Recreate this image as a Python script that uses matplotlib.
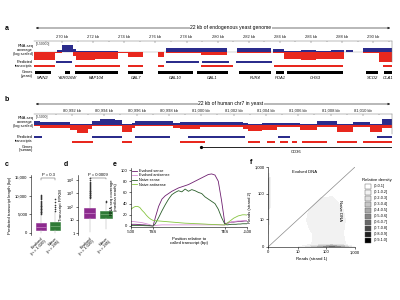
import numpy as np
import matplotlib
matplotlib.use("Agg")
import matplotlib.pyplot as plt
from matplotlib.patches import Rectangle, FancyArrowPatch
from matplotlib.colors import ListedColormap
from matplotlib.ticker import FuncFormatter

plt.rcParams['font.family'] = ['Liberation Sans', 'DejaVu Sans']

BLUE = '#2b2c8c'
RED = '#e8281e'
PURPLE = '#8d2a8e'
GREEN = '#2f7a36'

# ---------------- panel a data (kb on yeast chr II) ----------------
a_ticks_kb = [270, 272, 274, 276, 278, 280, 282, 284, 286, 288, 290]
a_cov_edges = [268.2, 269.55, 269.68, 270.0, 270.71, 270.9, 272.13, 273.61, 274.26, 275.23,
               276.19, 276.52, 276.71, 278.9, 280.58, 281.23, 283.42, 283.55, 284.26, 285.35,
               286.32, 287.29, 288.13, 288.26, 288.71, 289.35, 290.39, 291.2]
a_cov_plus = [0, 0, 2.5, 7, 3, 0.7, 0.7, 0, 0, 0, 0, 0, 3.8, 3.8, 0, 4.5, 0, 3.5, 1.3, 2, 1.3, 2, 0, 1.8, 0, 4.5, 4.5]
a_cov_minus = [8, 1, 1, 0, 3.5, 7.5, 6.5, 0.7, 4.5, 0, 4.5, 0, 0.7, 2.5, 0, 0.7, 0, 0.7, 7, 7.5, 7, 6.5, 0, 0, 0, 0.7, 9.5]
a_tx_plus = [(269.6, 270.65), (276.7, 278.8), (279.0, 280.7), (281.2, 283.5)]
a_tx_minus = [(268.2, 269.55), (270.84, 273.74), (274.26, 275.23), (276.19, 276.52),
              (278.9, 281.0), (283.6, 288.06), (290.65, 291.2)]
a_genes = ['MNN2', 'YBR016W', 'KAP104', 'GAL7', 'GAL10', 'GAL1', 'FUR4', 'POA1', 'CHS3', 'SCO2', 'OLA1']
a_gene_start = [268.25, 270.19, 270.84, 274.26, 276.19, 278.65, 281.35, 283.74, 284.45, 289.55, 290.71]
a_gene_end = [269.29, 270.52, 273.61, 275.23, 278.39, 280.65, 283.42, 284.26, 288.06, 290.32, 291.2]

# ---------------- panel b data (kb on human chr7) ----------------
b_ticks_kb = [80992, 80994, 80996, 80998, 81000, 81002, 81004, 81006, 81008, 81010]
b_cov_edges = [80989.65, 80990.02, 80991.88, 80992.31, 80992.99, 80993.24, 80993.73, 80994.66,
               80995.10, 80995.72, 80995.90, 80998.25, 80998.69, 80999.93, 81002.59, 81002.90,
               81003.76, 81004.69, 81006.12, 81007.17, 81008.41, 81009.40, 81010.45, 81011.20, 81011.8]
b_cov_plus = [4.5, 3, 1.2, 0.7, 1.2, 4.5, 6.5, 5.5, 1.2, 2.5, 4, 2.5, 3, 3, 2, 1.2, 2, 2.5, 1.2, 4, 1.2, 3, 1.2, 6.5]
b_cov_minus = [1.2, 3, 4.5, 7.5, 3.5, 1.2, 0.7, 1.2, 7, 2.5, 1.2, 2.5, 3.5, 2, 3.5, 6, 5, 2, 4.5, 2, 7, 2, 7, 2.5]
b_tx_plus = [(80989.65, 80990.14), (80993.24, 80995.10), (80995.90, 80998.07),
             (80999.18, 81002.71), (81004.76, 81005.50), (81010.89, 81011.8)]
b_tx_minus = [(80992.0, 80993.30), (80995.10, 80995.72), (80998.69, 81000.24), (81002.90, 81003.64),
              (81004.07, 81004.57), (81004.88, 81005.37), (81005.62, 81005.93), (81006.24, 81007.79),
              (81008.41, 81009.65), (81010.02, 81011.8)]
b_gene = ('CD36', 80999.97, 81011.8)

# ---------------- panel c / d data ----------------
groups = ['Evolved\n(n = 1,020)', 'Naive\n(n = 285)']
c_q1 = [800, 800]
c_med = [1600, 1800]
c_q3 = [2700, 2900]
c_wlo = [60, 60]
c_whi = [5000, 5500]
c_fliers_evolved = [5100, 5300, 5500, 5700, 5900, 6100, 6300, 6500, 6700, 6900, 7100, 7300,
                    7500, 7800, 8100, 8400, 8700, 9000, 9300, 9600, 10000, 10300]
c_fliers_naive = [5800, 6300, 7000, 7600, 8300, 9100]
c_p = 'P = 0.3'

d_q1 = [13.5, 13.5]
d_med = [32, 25]
d_q3 = [77, 46]
d_wlo = [1.2, 2]
d_whi = [430, 200]
d_fliers_evolved = [450, 500, 560, 620, 700, 780, 870, 970, 1100, 1250, 1400, 1600, 1800,
                    2100, 2400, 2800, 3300, 3900, 4700, 5800, 7500, 10000, 14000]
d_fliers_naive = [230, 260]
d_p = 'P = 0.0009'

# ---------------- panel e data ----------------
e_x = [0, 2, 4, 6, 8, 10, 12, 14, 16, 18, 20,
       22, 25, 28, 31, 34, 37, 40, 43, 46, 49, 52, 55, 58, 61, 64, 67, 70, 73, 76, 79, 82, 85,
       87, 89, 91, 93, 95, 97, 99, 101, 103, 105]
e_evolved_sense = [3, 3, 3, 2.8, 2.5, 2.2, 2, 1.6, 1.2, 0.6, 0,
                   15, 35, 48, 54, 58, 62, 65, 68, 70, 72, 74, 77, 80, 83, 86, 89, 92, 93, 91, 80, 45, 4,
                   5, 6, 7, 7, 7.5, 8, 8, 8.5, 9, 9]
e_evolved_antisense = [8, 8, 7.5, 7, 6.5, 6, 5, 4, 3, 1.5, 0.5,
                       1, 1.5, 2, 2, 2, 2, 2, 2, 2, 2, 2, 2, 2, 2, 2, 2, 2, 2, 2, 2, 2, 1.5,
                       4, 6, 7, 8, 8.5, 9, 9, 9.5, 10, 10]
e_naive_sense = [1, 1, 1, 1, 0.8, 0.8, 0.6, 0.5, 0.4, 0.2, 0,
                 4, 15, 27, 38, 48, 56, 60, 63, 61, 66, 62, 65, 63, 60, 58, 52, 48, 44, 40, 30, 15, 3,
                 2, 2.5, 3, 3, 3, 3.5, 3.5, 4, 4, 4]
e_naive_antisense = [30, 33, 35, 35, 33, 28, 24, 19, 15, 12, 10,
                     9.5, 9, 8.5, 8, 7.5, 7, 6.5, 6, 5.5, 5, 4.8, 4.5, 4.2, 4, 3.7, 3.4, 3, 2.8, 2.5, 2.3, 2, 2,
                     5, 8, 11, 14, 16, 18, 19, 20, 20, 19.5]
e_tick_pos = [0, 20, 85, 105]
e_tick_lab = ['-500', 'TSS', 'TES', '+500']

# ---------------- panel f data (log10(reads+1) grid) ----------------
f_nodes = [0, 0.1, 0.5, 1.0, 1.4, 1.8, 2.2, 2.6, 3.0]
f_density = [
    [0.05, 0.05, 0.05, 0.08, 0.25, 0.45, 0.65, 0.45, 0.10],
    [0.10, 0.02, 0.02, 0.03, 0.08, 0.15, 0.20, 0.12, 0.02],
    [0.10, 0.00, 0.00, 0.00, 0.08, 0.14, 0.14, 0.10, 0.00],
    [0.20, 0.00, 0.00, 0.00, 0.12, 0.18, 0.18, 0.12, 0.00],
    [0.30, 0.00, 0.00, 0.00, 0.10, 0.16, 0.16, 0.10, 0.00],
    [0.35, 0.05, 0.05, 0.00, 0.00, 0.11, 0.12, 0.05, 0.00],
    [0.40, 0.05, 0.08, 0.00, 0.00, 0.00, 0.03, 0.00, 0.00],
    [0.30, 0.02, 0.02, 0.00, 0.00, 0.00, 0.00, 0.00, 0.00],
    [0.05, 0.00, 0.00, 0.00, 0.00, 0.00, 0.00, 0.00, 0.00]]
f_ticks = [0, 10, 100, 1000]
f_tick_labels = ['0', '10', '100', '1,000']
f_bins = ['(0-0.1]', '(0.1-0.2]', '(0.2-0.3]', '(0.3-0.4]', '(0.4-0.5]',
          '(0.5-0.6]', '(0.6-0.7]', '(0.7-0.8]', '(0.8-0.9]', '(0.9-1.0]']

# ======================================================================
W, H = 400, 300
fig = plt.figure(figsize=(4, 3), dpi=100)
FS = 3.0
LW = 0.4


def pax(x0, y0, x1, y1):
    return fig.add_axes([x0 / W, 1 - y1 / H, (x1 - x0) / W, (y1 - y0) / H])


def ftxt(x, y, s, **kw):
    kw.setdefault('fontsize', FS)
    kw.setdefault('va', 'center')
    fig.text(x / W, 1 - y / H, s, **kw)


def arrow(x0, x1, y, label):
    fig.add_artist(FancyArrowPatch((x0 / W, 1 - y / H), (x1 / W, 1 - y / H), transform=fig.transFigure,
                                   arrowstyle='<|-|>', mutation_scale=3, lw=0.45, color='#222222'))
    ftxt((x0 + x1) / 2 + 18, y, label, fontsize=3.6, ha='center',
         bbox=dict(facecolor='white', edgecolor='none', pad=0.6))


def cov_track(ax, edges, plus, minus, xlim, ylim, ticks, fmt):
    e = np.asarray(edges)
    xs = np.repeat(e, 2)[1:-1]
    ax.fill_between(xs, 0, np.repeat(np.asarray(plus, float), 2), color=BLUE, lw=0)
    ax.fill_between(xs, 0, -np.repeat(np.asarray(minus, float), 2), color=RED, lw=0)
    ax.axhline(0, color='#9a9a9a', lw=0.3, zorder=0)
    ax.set_xlim(*xlim)
    ax.set_ylim(*ylim)
    for s in ['left', 'bottom']:
        ax.spines[s].set_visible(False)
    for s in ['top', 'right']:
        ax.spines[s].set_linewidth(0.35)
        ax.spines[s].set_color('#777777')
    ax.xaxis.tick_top()
    ax.set_xticks(ticks)
    ax.set_xticklabels([fmt(t) for t in ticks])
    ax.set_xticks(np.arange(ticks[0] - 1, ticks[-1] + 2, 1), minor=True)
    ax.tick_params(axis='x', which='both', direction='in', length=1.5, width=0.3, colors='#555555',
                   labelsize=3.0, pad=1.2, labelcolor='#222222')
    ax.tick_params(axis='x', which='minor', length=1.0)
    ax.set_yticks([])


def feature_axes(y0, y1, xlim):
    ax = pax(34, y0, 392, y1)
    ax.set_xlim(*xlim)
    ax.set_ylim(y1, y0)
    ax.axis('off')
    return ax


# ---------------- panel a ----------------
ftxt(5, 28, 'a', fontsize=5, fontweight='bold')
arrow(33, 393, 28, '22 kb of endogenous yeast genome')
axa = pax(34, 41, 392, 62)
cov_track(axa, a_cov_edges, a_cov_plus, a_cov_minus, (268.2, 291.2), (-10, 11), a_ticks_kb,
          lambda t: f'{t} kb')
axa.text(0.005, 0.93, '[0-50000]', transform=axa.transAxes, fontsize=2.4, va='top', color='#333333')
fa = feature_axes(60, 82, (268.2, 291.2))
fa.broken_barh([(s, e - s) for s, e in a_tx_plus], (61.2, 1.8), color=BLUE, lw=0)
fa.broken_barh([(s, e - s) for s, e in a_tx_minus], (65.2, 1.8), color=RED, lw=0)
fa.broken_barh([(s, e - s) for s, e in zip(a_gene_start, a_gene_end)], (71.2, 3.0), color='black', lw=0)
for g, s, e in zip(a_genes, a_gene_start, a_gene_end):
    fa.text((s + e) / 2, 77.6, g, fontsize=3.0, style='italic', ha='center', va='center')
ftxt(33, 50.5, 'RNA-seq\ncoverage\n(log scaled)', ha='right', fontsize=2.8, linespacing=1.0)
ftxt(33, 64.3, 'Predicted\ntranscripts', ha='right', fontsize=2.8, linespacing=1.0)
ftxt(33, 74.0, 'Genes\n(yeast)', ha='right', fontsize=2.8, linespacing=1.0)

# ---------------- panel b ----------------
ftxt(5, 99, 'b', fontsize=5, fontweight='bold')
arrow(33, 393, 104, '22 kb of human chr7 in yeast')
axb = pax(34, 114, 392, 134)
cov_track(axb, b_cov_edges, b_cov_plus, b_cov_minus, (80989.65, 81011.8), (-9, 11), b_ticks_kb,
          lambda t: f'{t:,} kb')
axb.text(0.005, 0.93, '[0-5000]', transform=axb.transAxes, fontsize=2.4, va='top', color='#333333')
fb = feature_axes(133, 156, (80989.65, 81011.8))
fb.broken_barh([(s, e - s) for s, e in b_tx_plus], (136.2, 1.8), color=BLUE, lw=0)
fb.broken_barh([(s, e - s) for s, e in b_tx_minus], (141.2, 1.8), color=RED, lw=0)
fb.plot([b_gene[1], b_gene[2]], [147, 147], color='black', lw=0.6)
fb.plot([b_gene[1]], [147], marker='o', ms=1.3, color='black')
fb.text((b_gene[1] + b_gene[2]) / 2, 152, b_gene[0], fontsize=3.0, ha='center', va='center')
ftxt(33, 122.5, 'RNA-seq\ncoverage\n(log scaled)', ha='right', fontsize=2.8, linespacing=1.0)
ftxt(33, 139.3, 'Predicted\ntranscripts', ha='right', fontsize=2.8, linespacing=1.0)
ftxt(33, 148.5, 'Genes\n(human)', ha='right', fontsize=2.8, linespacing=1.0)


# ---------------- helpers for box plots ----------------
def style_ax(ax, left=True, bottom=True):
    for s in ['top', 'right']:
        ax.spines[s].set_visible(False)
    ax.spines['left'].set_visible(left)
    ax.spines['bottom'].set_visible(bottom)
    for s in ['left', 'bottom']:
        ax.spines[s].set_linewidth(LW)
    ax.tick_params(width=LW, length=1.5, labelsize=FS, pad=1)


def boxes(ax, q1, med, q3, wlo, whi, fliers):
    stats = []
    for i in range(2):
        stats.append(dict(q1=q1[i], med=med[i], q3=q3[i], whislo=wlo[i], whishi=whi[i],
                          fliers=fliers[i], label=groups[i]))
    cols = [PURPLE, GREEN]
    bp = ax.bxp(stats, positions=[1, 2], widths=0.72, patch_artist=True, showfliers=True,
                boxprops=dict(lw=0.4), medianprops=dict(lw=0.4),
                whiskerprops=dict(lw=0.35, color='#b0b0b0'), capprops=dict(lw=0.0),
                flierprops=dict(marker='o', ms=0.9, mew=0.2))
    for i, c in enumerate(cols):
        bp['boxes'][i].set_facecolor(c)
        bp['boxes'][i].set_edgecolor(c)
        bp['medians'][i].set_color('#d9a0d9' if i == 0 else '#8fc08f')
        bp['fliers'][i].set_markerfacecolor('#333333')
        bp['fliers'][i].set_markeredgecolor('#333333')
    ax.set_xlim(0.3, 2.55)
    ax.set_xticks([1, 2])
    ax.set_xticklabels(groups, rotation=45, ha='right', rotation_mode='anchor', fontsize=FS,
                       linespacing=1.0)
    ax.tick_params(axis='x', length=0, pad=2)


def bracket(ax, y, text, ytext):
    ax.plot([1, 1, 2, 2], [y[0], y[1], y[1], y[0]], color='#555555', lw=0.35, clip_on=False)
    ax.text(1.5, ytext, text, fontsize=FS, ha='center', va='bottom')


# ---------------- panel c ----------------
ftxt(5, 164, 'c', fontsize=5, fontweight='bold')
axc = pax(31, 175, 63, 235)
boxes(axc, c_q1, c_med, c_q3, c_wlo, c_whi, [c_fliers_evolved, c_fliers_naive])
axc.set_ylim(-550, 15550)
axc.set_yticks([0, 5000, 10000, 15000])
axc.yaxis.set_major_formatter(FuncFormatter(lambda v, p: f'{int(v):,}'))
style_ax(axc, bottom=False)
axc.tick_params(axis='x', length=0)
bracket(axc, (14200, 14800), c_p, 15000)
axc.set_ylabel('Predicted transcript length (bp)', fontsize=3.1, labelpad=2)

# ---------------- panel d ----------------
ftxt(64, 164, 'd', fontsize=5, fontweight='bold')
axd = pax(78, 175, 115, 235)
boxes(axd, d_q1, d_med, d_q3, d_wlo, d_whi, [d_fliers_evolved, d_fliers_naive])
axd.set_yscale('log')
axd.set_ylim(10 ** -0.15, 10 ** 4.38)
axd.set_yticks([1, 10, 100, 1000, 10000])
axd.set_yticklabels(['1', '10', '10$^2$', '10$^3$', '10$^4$'])
axd.minorticks_off()
style_ax(axd, bottom=False)
axd.tick_params(axis='x', length=0)
bracket(axd, (10 ** 4.05, 10 ** 4.18), d_p, 10 ** 4.23)
axd.set_ylabel('Transcript FPKM', fontsize=3.1, labelpad=2)

# ---------------- panel e ----------------
ftxt(113, 164, 'e', fontsize=5, fontweight='bold')
axe = pax(131, 168, 247, 227)
axe.plot(e_x, e_evolved_sense, color='#6e1f70', lw=0.6, label='Evolved sense')
axe.plot(e_x, e_evolved_antisense, color='#d88fd6', lw=0.6, label='Evolved antisense')
axe.plot(e_x, e_naive_sense, color='#2a5e2a', lw=0.6, label='Naive sense')
axe.plot(e_x, e_naive_antisense, color='#86c440', lw=0.6, label='Naive antisense')
axe.set_xlim(0, 105)
axe.set_ylim(-1.8, 103.6)
axe.set_xticks(e_tick_pos)
axe.set_xticklabels(e_tick_lab)
axe.set_yticks([0, 20, 40, 60, 80, 100])
style_ax(axe)
axe.set_xlabel('Position relative to\ncalled transcript (bp)', fontsize=3.1, labelpad=1.5, linespacing=1.0)
axe.set_ylabel('RNA-seq coverage\n(median reads)', fontsize=3.1, labelpad=2, linespacing=1.0)
axe.legend(loc='upper left', bbox_to_anchor=(-0.01, 1.03), fontsize=2.7, frameon=False,
           handlelength=1.3, handletextpad=0.5, labelspacing=0.15, borderpad=0.2)

# ---------------- panel f ----------------
ftxt(250, 162, 'f', fontsize=5, fontweight='bold')
axf = pax(268, 167, 355, 247)
greys = plt.cm.Greys(np.linspace(0.0, 1.0, 10))
greys[0] = (1, 1, 1, 1)
cmap = ListedColormap(greys)
axf.contourf(f_nodes, f_nodes, np.array(f_density), levels=np.linspace(0, 1, 11), cmap=cmap)
axf.plot([0, 3], [0, 3], color='#8a8a8a', lw=0.5)
axf.set_xlim(0, 3)
axf.set_ylim(0, 3)
tpos = np.log10(np.array(f_ticks) + 1)
axf.set_xticks(tpos)
axf.set_xticklabels(f_tick_labels)
axf.set_yticks(tpos)
axf.set_yticklabels(f_tick_labels)
style_ax(axf)
axf.set_xlabel('Reads (strand 1)', fontsize=3.1, labelpad=1.5)
axf.set_ylabel('Reads (strand 2)', fontsize=3.1, labelpad=2)
axf.text(0.42, 0.94, 'Evolved DNA', transform=axf.transAxes, fontsize=3.1, ha='center', va='center')
axf.text(0.83, 0.45, 'Naive DNA', transform=axf.transAxes, fontsize=3.1, ha='center', va='center',
         rotation=-90)

ftxt(377, 180, 'Relative density', fontsize=3.1, ha='center')
for i, (lab, col) in enumerate(zip(f_bins, greys)):
    y = 183.5 + i * 6.0
    fig.add_artist(Rectangle((365 / W, 1 - (y + 5.0) / H), 6 / W, 5.0 / H, transform=fig.transFigure,
                             facecolor=col, edgecolor='#555555', lw=0.3))
    ftxt(374, y + 2.5, lab, fontsize=2.7, ha='left')

fig.savefig('out.png', dpi=100)
